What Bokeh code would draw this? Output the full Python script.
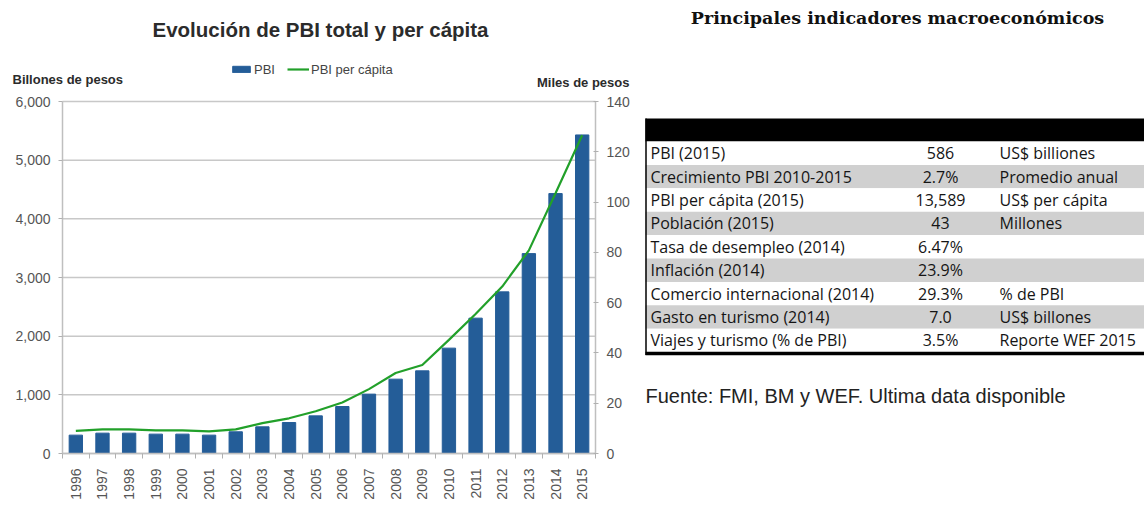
import math
from bokeh.plotting import figure
from bokeh.models import (Range1d, LinearAxis, FixedTicker, NumeralTickFormatter,
                          Legend, LegendItem)
from bokeh.embed import file_html
from bokeh.resources import INLINE
from bokeh.core.properties import value

# ---------------- data ----------------
years = [str(y) for y in range(1996, 2016)]
pbi = [313, 347, 347, 330, 330, 313, 370, 455, 528, 642, 801, 1012, 1267, 1409,
       1796, 2307, 2755, 3407, 4431, 5430]
pbi_pc = [9.0, 9.6, 9.6, 9.2, 9.2, 8.8, 9.6, 12.1, 14.0, 16.8, 20.3, 25.6, 32.0,
          35.2, 45.2, 55.5, 66.4, 80.8, 103.5, 126.6]
left_ticks = [0, 1000, 2000, 3000, 4000, 5000, 6000]
right_ticks = [0, 20, 40, 60, 80, 100, 120, 140]

chart_title = "Evolución de PBI total y per cápita"
left_title = "Billones de pesos"
right_title = "Miles de pesos"
series_names = ["PBI", "PBI per cápita"]

table_title = "Principales indicadores macroeconómicos"
table_labels = ["PBI (2015)", "Crecimiento PBI 2010-2015", "PBI per cápita (2015)",
                "Población (2015)", "Tasa de desempleo (2014)", "Inflación (2014)",
                "Comercio internacional (2014)", "Gasto en turismo (2014)",
                "Viajes y turismo (% de PBI)"]
table_values = ["586", "2.7%", "13,589", "43", "6.47%", "23.9%", "29.3%", "7.0", "3.5%"]
table_units = ["US$ billiones", "Promedio anual", "US$ per cápita", "Millones", "", "",
               "% de PBI", "US$ billones", "Reporte WEF 2015"]
source_note = "Fuente: FMI, BM y WEF. Ultima data disponible"

# ---------------- layout constants (pixels) ----------------
W, H = 1144, 504
FL, FR, FT, FB = 62, 595, 101, 453          # chart plot area in the page
n_cat = len(years)
x_lo, x_hi = -0.5, n_cat - 0.5
px_per_cat = (FR - FL) / (x_hi - x_lo)
y_max_l, y_max_r = left_ticks[-1], right_ticks[-1]
px_per_l = (FB - FT) / y_max_l
px_per_r = (FB - FT) / y_max_r

FONT = "Liberation Sans"
BAR = "#245d98"
GREEN = "#22a02a"
GRID = "#c8c8c8"
AXC = "#bfbfbf"
TICKC = "#555555"

p = figure(width=W, height=H, output_backend="svg", toolbar_location=None,
           x_axis_location=None, y_axis_location=None, min_border=0,
           x_range=Range1d(x_lo - FL / px_per_cat, x_lo + (W - FL) / px_per_cat),
           y_range=Range1d(-(H - FB) / px_per_l, FB / px_per_l))
p.extra_y_ranges = {"right": Range1d(-(H - FB) / px_per_r, FB / px_per_r),
                    "py": Range1d(H, 0)}
p.extra_x_ranges = {"px": Range1d(0, W)}
p.outline_line_color = None
p.grid.visible = False

xs = list(range(n_cat))

# gridlines at the left-axis ticks
p.segment(x0=[x_lo] * len(left_ticks), x1=[x_hi] * len(left_ticks), y0=left_ticks,
          y1=left_ticks, line_color=GRID, line_width=1.5)

bars = p.vbar(x=xs, top=pbi, width=0.5, fill_color=BAR, line_color=BAR)
line = p.line(x=xs, y=pbi_pc, y_range_name="right", line_color=GREEN, line_width=2.2)

# x axis
xa = LinearAxis(fixed_location=0, bounds=(x_lo, x_hi),
                ticker=FixedTicker(ticks=xs, minor_ticks=[i - 0.5 for i in range(n_cat + 1)]))
xa.major_label_overrides = {i: y for i, y in zip(xs, years)}
xa.major_label_orientation = math.pi / 2
xa.major_tick_line_color = None
xa.minor_tick_line_color = "#b0b0b0"
xa.minor_tick_in = 0
xa.minor_tick_out = 5
xa.axis_line_color = AXC
xa.axis_line_width = 1.5
xa.major_label_standoff = 9
xa.major_label_text_font = FONT
xa.major_label_text_font_size = "14px"
xa.major_label_text_color = TICKC
p.add_layout(xa, "below")

# left axis
ya = LinearAxis(fixed_location=x_lo, bounds=(0, y_max_l), ticker=FixedTicker(ticks=left_ticks),
                formatter=NumeralTickFormatter(format="0,0"))
ya.major_tick_in = 0
ya.major_tick_out = 4
ya.major_tick_line_color = "#b0b0b0"
ya.minor_tick_line_color = None
ya.axis_line_color = AXC
ya.axis_line_width = 1.5
ya.major_label_standoff = 8
ya.major_label_text_font = FONT
ya.major_label_text_font_size = "14px"
ya.major_label_text_color = TICKC
p.add_layout(ya, "left")

# right axis
ra = LinearAxis(y_range_name="right", fixed_location=x_hi, bounds=(0, y_max_r),
                ticker=FixedTicker(ticks=right_ticks))
ra.major_tick_in = 2
ra.major_tick_out = 3
ra.major_tick_line_color = "#b0b0b0"
ra.minor_tick_line_color = None
ra.axis_line_color = AXC
ra.axis_line_width = 1.5
ra.major_label_standoff = 8
ra.major_label_text_font = FONT
ra.major_label_text_font_size = "14px"
ra.major_label_text_color = TICKC
p.add_layout(ra, "right")

# chart texts (page pixel coordinates)
PX = dict(x_range_name="px", y_range_name="py")
p.text(x=[320], y=[29], text=[chart_title], text_align="center",
       text_baseline="middle", text_font=value(FONT), text_font_style="bold",
       text_font_size="20.5px", text_color="#2b2b2b", **PX)
p.text(x=[12], y=[79], text=[left_title], text_align="left", text_baseline="middle",
       text_font=value(FONT), text_font_style="bold", text_font_size="13px",
       text_color="#2b2b2b", **PX)
p.text(x=[629], y=[82], text=[right_title], text_align="right", text_baseline="middle",
       text_font=value(FONT), text_font_style="bold", text_font_size="13px",
       text_color="#2b2b2b", **PX)

legend = Legend(items=[LegendItem(label=series_names[0], renderers=[bars]),
                       LegendItem(label=series_names[1], renderers=[line])],
                location=(230, H - 69 - 10), orientation="horizontal", glyph_width=22,
                glyph_height=8, label_standoff=2, spacing=12, padding=0, margin=0,
                border_line_color=None, background_fill_alpha=0,
                label_text_font=FONT, label_text_font_size="13px",
                label_text_color="#444444", label_height=20)
p.add_layout(legend, "center")

# ---------------- table ----------------
tab_left, tab_right = 645, W
head_top, head_bot = 118, 141
row_h = 23.4
n = len(table_labels)
tops = [head_bot + i * row_h for i in range(n)]
bots = [tp + row_h for tp in tops]
mids = [tp + row_h / 2 for tp in tops]
fills = ["#ffffff" if i % 2 == 0 else "#d0d0d0" for i in range(n)]

p.quad(left=[tab_left], right=[tab_right], top=[head_top], bottom=[head_bot],
       fill_color="black", line_color=None, **PX)
p.quad(left=[tab_left] * n, right=[tab_right] * n, top=tops, bottom=bots,
       fill_color=fills, line_color=None, **PX)
p.segment(x0=[tab_left + 0.5], y0=[head_top], x1=[tab_left + 0.5], y1=[bots[-1] + 3],
          line_color="black", line_width=1.5, **PX)
p.segment(x0=[tab_left], y0=[bots[-1] + 1.5], x1=[tab_right], y1=[bots[-1] + 1.5],
          line_color="black", line_width=3.5, **PX)

TF = value("Open Sans")
p.text(x=[650] * n, y=mids, text=table_labels, text_baseline="middle",
       text_align="left", text_font=TF, text_font_size="16px", text_color="#151515", **PX)
p.text(x=[940] * n, y=mids, text=table_values, text_baseline="middle",
       text_align="center", text_font=TF, text_font_size="16px", text_color="#151515", **PX)
p.text(x=[999] * n, y=mids, text=table_units, text_baseline="middle",
       text_align="left", text_font=TF, text_font_size="16px", text_color="#151515", **PX)

p.text(x=[897], y=[17], text=[table_title], text_baseline="middle", text_align="center",
       text_font=value("DejaVu Serif"), text_font_style="bold", text_font_size="17.5px",
       text_color="#111111", **PX)
p.text(x=[645], y=[395], text=[source_note], text_baseline="middle", text_align="left",
       text_font=value(FONT), text_font_size="20px", text_color="#222222", **PX)

open("out.html", "w").write(file_html(p, INLINE))
